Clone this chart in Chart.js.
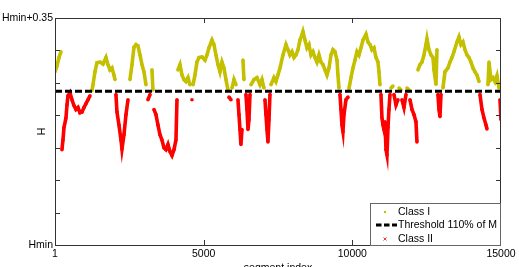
<!doctype html>
<html lang="en">
<head>
<meta charset="utf-8">
<title>H by segment index</title>
<script src="https://cdn.jsdelivr.net/npm/chart.js@4/dist/chart.umd.min.js"></script>
<style>
  body { margin: 0; background: #fff; }
  #wrap { width: 519px; height: 267px; }
</style>
</head>
<body>
<div id="wrap"><canvas id="hChart"></canvas></div>
<script>
// segment index of each sample
const segmentIndex = [
  1, 67, 135, 202, 235, 269, 303, 370, 404, 437,
  504, 572, 639, 706, 773, 841, 908, 975, 1043, 1110,
  1177, 1244, 1278, 1345, 1412, 1513, 1614, 1715, 1782, 1850,
  1917, 1984, 2018, 2051, 2085, 2152, 2220, 2253, 2320, 2388,
  2455, 2522, 2589, 2657, 2724, 2791, 2859, 2926, 2993, 3060,
  3128, 3195, 3262, 3296, 3329, 3397, 3464, 3531, 3598, 3666,
  3733, 3800, 3867, 3935, 4002, 4069, 4103, 4136, 4204, 4271,
  4338, 4406, 4473, 4540, 4607, 4641, 4708, 4775, 4843, 4944,
  5045, 5112, 5179, 5280, 5347, 5414, 5482, 5549, 5616, 5683,
  5751, 5818, 5852, 5919, 5953, 6020, 6087, 6154, 6188, 6222,
  6255, 6289, 6322, 6356, 6423, 6457, 6491, 6524, 6558, 6591,
  6692, 6793, 6894, 6961, 7029, 7062, 7096, 7130, 7163, 7197,
  7230, 7264, 7365, 7432, 7499, 7567, 7668, 7769, 7836, 7903,
  7970, 8038, 8105, 8172, 8239, 8307, 8340, 8408, 8475, 8542,
  8609, 8677, 8744, 8811, 8878, 8946, 9013, 9080, 9147, 9215,
  9282, 9349, 9417, 9484, 9517, 9551, 9585, 9618, 9652, 9685,
  9719, 9786, 9854, 9887, 9955, 10022, 10089, 10156, 10224, 10291,
  10358, 10459, 10526, 10594, 10661, 10728, 10796, 10863, 10896, 10930,
  10963, 10997, 11031, 11064, 11098, 11132, 11165, 11199, 11232, 11266,
  11300, 11367, 11401, 11468, 11535, 11569, 11636, 11670, 11737, 11804,
  11838, 11905, 11939, 12006, 12073, 12140, 12174, 12208, 12275, 12342,
  12409, 12477, 12510, 12578, 12645, 12712, 12746, 12813, 12847, 12880,
  12914, 12948, 12981, 13048, 13116, 13217, 13284, 13351, 13418, 13519,
  13587, 13654, 13721, 13788, 13856, 13923, 13990, 14057, 14125, 14192,
  14259, 14293, 14360, 14427, 14495, 14528, 14562, 14596, 14663, 14730,
  14797, 14864, 14932, 14966, 15000
];

// H - Hmin at each sample
const hValues = [
  0.267, 0.276, 0.289, 0.298, 0.147, 0.162, 0.181, 0.196, 0.216, 0.230,
  0.235, 0.224, 0.215, 0.209, 0.212, 0.204, 0.205, 0.212, 0.218, 0.224,
  0.230, 0.238, 0.247, 0.267, 0.281, 0.282, 0.279, 0.289, 0.278, 0.270,
  0.273, 0.262, 0.255, 0.232, 0.205, 0.185, 0.162, 0.148, 0.170, 0.201,
  0.224, 0.255, 0.278, 0.305, 0.309, 0.307, 0.293, 0.278, 0.267, 0.247,
  0.224, 0.232, 0.270, 0.239, 0.209, 0.201, 0.185, 0.170, 0.162, 0.150,
  0.147, 0.155, 0.144, 0.138, 0.147, 0.162, 0.224, 0.270, 0.278, 0.262,
  0.255, 0.252, 0.258, 0.247, 0.224, 0.247, 0.262, 0.282, 0.289, 0.290,
  0.285, 0.293, 0.304, 0.316, 0.309, 0.293, 0.278, 0.267, 0.282, 0.273,
  0.255, 0.239, 0.228, 0.224, 0.242, 0.255, 0.247, 0.224, 0.201, 0.178,
  0.155, 0.178, 0.285, 0.255, 0.232, 0.209, 0.178, 0.193, 0.232, 0.247,
  0.255, 0.258, 0.247, 0.255, 0.242, 0.224, 0.201, 0.178, 0.159, 0.193,
  0.232, 0.247, 0.258, 0.252, 0.262, 0.273, 0.293, 0.309, 0.301, 0.293,
  0.298, 0.289, 0.293, 0.301, 0.316, 0.324, 0.329, 0.316, 0.304, 0.309,
  0.293, 0.298, 0.289, 0.282, 0.293, 0.282, 0.278, 0.270, 0.262, 0.273,
  0.293, 0.301, 0.298, 0.285, 0.262, 0.242, 0.232, 0.209, 0.185, 0.175,
  0.201, 0.224, 0.228, 0.241, 0.258, 0.273, 0.285, 0.298, 0.293, 0.304,
  0.316, 0.325, 0.313, 0.309, 0.301, 0.304, 0.289, 0.282, 0.267, 0.247,
  0.232, 0.196, 0.185, 0.178, 0.190, 0.147, 0.139, 0.181, 0.209, 0.232,
  0.242, 0.245, 0.232, 0.216, 0.224, 0.242, 0.239, 0.224, 0.212, 0.232,
  0.242, 0.239, 0.224, 0.209, 0.201, 0.190, 0.159, 0.270, 0.278, 0.282,
  0.293, 0.309, 0.318, 0.301, 0.293, 0.289, 0.270, 0.248, 0.301, 0.232,
  0.209, 0.198, 0.232, 0.242, 0.267, 0.273, 0.282, 0.289, 0.298, 0.313,
  0.321, 0.309, 0.313, 0.301, 0.293, 0.289, 0.282, 0.273, 0.267, 0.262,
  0.252, 0.232, 0.209, 0.196, 0.185, 0.179, 0.247, 0.282, 0.255, 0.258,
  0.252, 0.261, 0.242, 0.224, 0.193
];

const threshold = 0.237;
const xTicks = [1, 5000, 10000, 15000];
const yTicks = [0, 0.05, 0.1, 0.15, 0.2, 0.25, 0.3, 0.35];
const yTickLabels = ['Hmin', '', '', '', '', '', '', 'Hmin+0.35'];
const legendLabels = ['Class I', 'Threshold 110% of M', 'Class II'];

const yellow = 'rgb(196,192,0)';
const red = 'rgb(255,0,0)';
const font = { family: '"Liberation Sans", Arial, sans-serif', size: 10.5 };
const fontCss = '10.5px "Liberation Sans", Arial, sans-serif';

// split the trace into the two classes around the threshold
const classI = segmentIndex.map((s, i) => ({ x: s, y: hValues[i] >= threshold ? hValues[i] : null }));
const classII = segmentIndex.map((s, i) => ({ x: s, y: hValues[i] < threshold ? hValues[i] : null }));

// box, inward tick marks and the legend, matlab style
const matlabAxes = {
  id: 'matlabAxes',
  afterDraw(chart) {
    const { ctx, chartArea: a, scales: { x, y } } = chart;
    ctx.save();
    ctx.strokeStyle = '#333';
    ctx.lineWidth = 1;
    ctx.beginPath();
    xTicks.slice(1, -1).forEach(v => {
      const px = Math.round(x.getPixelForValue(v)) + 0.5;
      ctx.moveTo(px, a.bottom); ctx.lineTo(px, a.bottom - 5);
      ctx.moveTo(px, a.top); ctx.lineTo(px, a.top + 5);
    });
    yTicks.slice(1, -1).forEach(v => {
      const py = Math.round(y.getPixelForValue(v)) + 0.5;
      ctx.moveTo(a.left, py); ctx.lineTo(a.left + 5, py);
      ctx.moveTo(a.right, py); ctx.lineTo(a.right - 5, py);
    });
    ctx.stroke();
    ctx.strokeRect(a.left + 0.5, a.top + 0.5, a.right - a.left - 1, a.bottom - a.top);

    // legend
    const bx = a.right - 131, by = a.bottom - 42;
    ctx.fillStyle = '#fff';
    ctx.fillRect(bx, by, 131, 42);
    ctx.strokeStyle = '#666';
    ctx.strokeRect(bx + 0.5, by + 0.5, 130, 42);
    const rows = [by + 9, by + 22, by + 36];
    ctx.fillStyle = yellow;
    ctx.beginPath();
    ctx.arc(bx + 15, rows[0], 1.2, 0, Math.PI * 2);
    ctx.fill();
    ctx.strokeStyle = '#000';
    ctx.lineWidth = 3;
    ctx.setLineDash([5.5, 2.5]);
    ctx.beginPath();
    ctx.moveTo(bx + 6, rows[1]); ctx.lineTo(bx + 27, rows[1]);
    ctx.stroke();
    ctx.setLineDash([]);
    ctx.strokeStyle = red;
    ctx.lineWidth = 0.8;
    ctx.beginPath();
    ctx.moveTo(bx + 13.5, rows[2] - 1.5); ctx.lineTo(bx + 16.5, rows[2] + 1.5);
    ctx.moveTo(bx + 16.5, rows[2] - 1.5); ctx.lineTo(bx + 13.5, rows[2] + 1.5);
    ctx.stroke();
    ctx.fillStyle = '#000';
    ctx.font = fontCss;
    ctx.textBaseline = 'middle';
    legendLabels.forEach((t, i) => ctx.fillText(t, bx + 28, rows[i]));
    ctx.restore();
  }
};

new Chart(document.getElementById('hChart'), {
  type: 'scatter',
  data: {
    datasets: [
      {
        label: legendLabels[1],
        data: [{ x: xTicks[0], y: threshold }, { x: xTicks[3], y: threshold }],
        showLine: true,
        borderColor: '#000',
        borderWidth: 3,
        borderDash: [7, 3],
        pointRadius: 0
      },
      {
        label: legendLabels[0],
        data: classI,
        showLine: true,
        borderColor: yellow,
        backgroundColor: yellow,
        borderWidth: 3.6,
        pointRadius: 1.8,
        pointBorderWidth: 0
      },
      {
        label: legendLabels[2],
        data: classII,
        showLine: true,
        borderColor: red,
        backgroundColor: red,
        borderWidth: 3.6,
        pointRadius: 1.8,
        pointBorderWidth: 0
      }
    ]
  },
  options: {
    responsive: true,
    maintainAspectRatio: false,
    animation: false,
    devicePixelRatio: 1,
    layout: { padding: { top: 18, right: 18, left: 0, bottom: 0 } },
    plugins: { legend: { display: false }, tooltip: { enabled: false } },
    scales: {
      x: {
        type: 'linear',
        min: 1,
        max: 15000,
        afterBuildTicks: s => { s.ticks = xTicks.map(v => ({ value: v })); },
        afterFit: s => { s.height = 22; },
        grid: { display: false, drawTicks: false },
        border: { display: false },
        ticks: { font, color: '#000', padding: 3, maxRotation: 0, callback: v => String(v) },
        title: { display: true, text: 'segment index', font, color: '#000', padding: { top: 0, bottom: -7 } }
      },
      y: {
        type: 'linear',
        min: 0,
        max: 0.35,
        afterBuildTicks: s => { s.ticks = yTicks.map(v => ({ value: v })); },
        afterFit: s => { s.width = 55; },
        grid: { display: false, drawTicks: false },
        border: { display: false },
        ticks: { font, color: '#000', padding: 2, callback: (v, i) => yTickLabels[i] },
        title: { display: true, text: 'H', font, color: '#000', padding: { top: 36, bottom: 0 } }
      }
    }
  },
  plugins: [matlabAxes]
});
</script>
</body>
</html>
